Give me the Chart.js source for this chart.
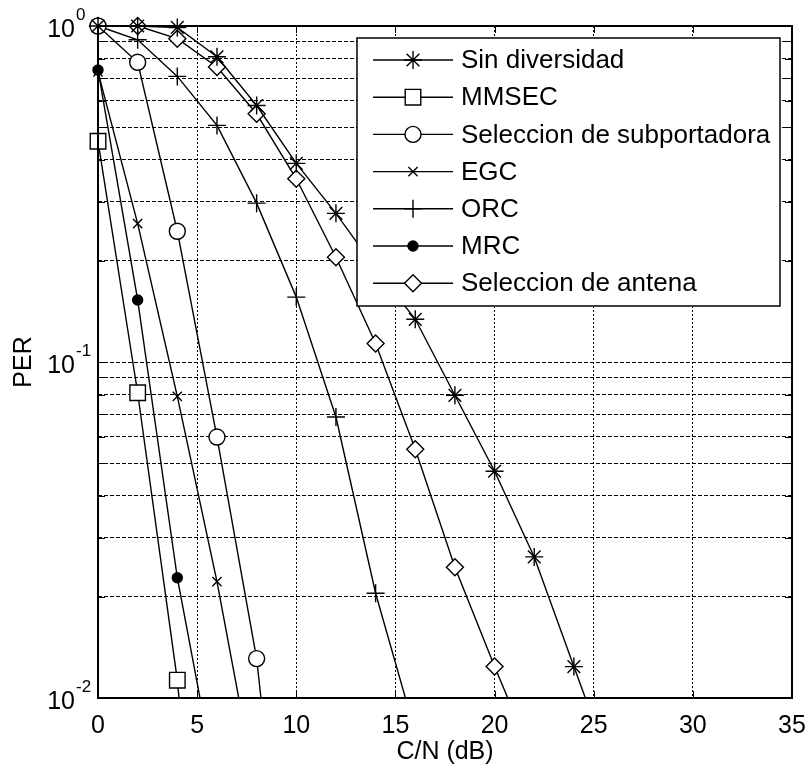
<!DOCTYPE html>
<html>
<head>
<meta charset="utf-8">
<script src="https://cdn.jsdelivr.net/npm/chart.js@4.4.0/dist/chart.umd.min.js"></script>
<style>
  html, body { margin: 0; padding: 0; background: #fff; }
</style>
</head>
<body>
<canvas id="chart" width="808" height="770"></canvas>
<script>
// C/N (dB) values, one marker every 2 dB
const snr = [0, 2, 4, 6, 8, 10, 12, 14, 16, 18, 20, 22, 24, 26];

// PER (last value of each series lies below 10^-2 and is clipped)
const sinDiversidad   = [1, 1, 0.99, 0.81, 0.58, 0.39, 0.277, 0.19, 0.134, 0.0796, 0.0473, 0.0263, 0.0124, 0.0059];
const mmsec           = [0.454, 0.081, 0.0113, 0.0006];
const seleccionSub    = [1, 0.78, 0.245, 0.0598, 0.0131, 0.0011];
const egc             = [0.73, 0.258, 0.079, 0.0222, 0.0052];
const orc             = [1, 0.91, 0.708, 0.506, 0.297, 0.156, 0.0686, 0.0205, 0.0079];
const mrc             = [0.74, 0.153, 0.0228, 0.0054];
const seleccionAntena = [1, 1, 0.917, 0.755, 0.548, 0.351, 0.205, 0.1135, 0.055, 0.0245, 0.0124, 0.0065];

const seriesNames = ["Sin diversidad", "MMSEC", "Seleccion de subportadora", "EGC", "ORC", "MRC", "Seleccion de antena"];

const xTicks = [0, 5, 10, 15, 20, 25, 30, 35];
const yGrid = [0.01, 0.02, 0.03, 0.04, 0.05, 0.06, 0.07, 0.08, 0.09,
               0.1, 0.2, 0.3, 0.4, 0.5, 0.6, 0.7, 0.8, 0.9, 1];
const yMajor = [1, 0.1, 0.01];
const yMajorExp = ["0", "-1", "-2"];
const xTitle = "C/N (dB)";
const yTitle = "PER";

const FONT = "'Liberation Sans', Arial, sans-serif";

function pts(values) {
    return values.map((v, i) => ({ x: snr[i], y: v }));
}

function series(label, values, style, radius, fillColor) {
    return {
        label: label,
        data: pts(values),
        borderColor: "#000",
        borderWidth: 1.4,
        pointStyle: style,
        pointRadius: radius,
        pointHoverRadius: radius,
        pointBorderColor: "#000",
        pointBackgroundColor: fillColor || "#fff",
        pointBorderWidth: 1.4,
        tension: 0,
        fill: false,
        clip: { left: 20, top: 20, right: 20, bottom: 0 }
    };
}

const datasets = [
    series(seriesNames[0], sinDiversidad, "star", 9),
    series(seriesNames[1], mmsec, "rect", 11),
    series(seriesNames[2], seleccionSub, "circle", 8),
    series(seriesNames[3], egc, "crossRot", 6.5),
    series(seriesNames[4], orc, "cross", 9),
    series(seriesNames[5], mrc, "circle", 5, "#000"),
    series(seriesNames[6], seleccionAntena, "rectRot", 8.5)
];

const frame = {
    id: "frame",
    afterDatasetsDraw(chart) {
        const ctx = chart.ctx;
        const a = chart.chartArea;
        const xs = chart.scales.x, ys = chart.scales.y;
        ctx.save();
        ctx.strokeStyle = "#000";
        ctx.setLineDash([]);

        // inward ticks
        ctx.lineWidth = 1;
        ctx.beginPath();
        xTicks.forEach(t => {
            const px = Math.round(xs.getPixelForValue(t)) + 0.5;
            ctx.moveTo(px, a.bottom); ctx.lineTo(px, a.bottom - 7);
            ctx.moveTo(px, a.top); ctx.lineTo(px, a.top + 7);
        });
        yGrid.forEach(v => {
            const py = Math.round(ys.getPixelForValue(v)) + 0.5;
            ctx.moveTo(a.left, py); ctx.lineTo(a.left + 7, py);
            ctx.moveTo(a.right, py); ctx.lineTo(a.right - 7, py);
        });
        ctx.stroke();

        // axes box
        ctx.lineWidth = 2;
        ctx.strokeRect(a.left, a.top, a.right - a.left, a.bottom - a.top);

        // tick labels
        ctx.fillStyle = "#000";
        ctx.font = "25px " + FONT;
        ctx.textAlign = "center";
        ctx.textBaseline = "alphabetic";
        xTicks.forEach(t => ctx.fillText(String(t), xs.getPixelForValue(t), 733));

        yMajor.forEach((v, i) => {
            const py = ys.getPixelForValue(v);
            ctx.font = "25px " + FONT;
            ctx.textAlign = "right";
            ctx.fillText("10", 75, py + 11);
            ctx.font = "17px " + FONT;
            ctx.textAlign = "left";
            ctx.fillText(yMajorExp[i], 76, py - 6);
        });

        // axis titles
        ctx.font = "25px " + FONT;
        ctx.textAlign = "center";
        ctx.fillText(xTitle, (a.left + a.right) / 2, 759);
        ctx.translate(31, (a.top + a.bottom) / 2);
        ctx.rotate(-Math.PI / 2);
        ctx.fillText(yTitle, 0, 0);
        ctx.restore();

        // legend box
        const lx = 357, ly = 38, lw = 423, lh = 268;
        ctx.save();
        ctx.fillStyle = "#fff";
        ctx.fillRect(lx, ly, lw, lh);
        ctx.strokeStyle = "#000";
        ctx.lineWidth = 1.5;
        ctx.strokeRect(lx, ly, lw, lh);
        ctx.font = "26px " + FONT;
        ctx.textAlign = "left";
        ctx.textBaseline = "middle";
        chart.data.datasets.forEach((ds, i) => {
            const cy = 60 + i * 37.2;
            ctx.lineWidth = ds.borderWidth;
            ctx.beginPath();
            ctx.moveTo(373, cy); ctx.lineTo(453, cy);
            ctx.stroke();
            ctx.fillStyle = ds.pointBackgroundColor;
            Chart.helpers.drawPoint(ctx, {
                pointStyle: ds.pointStyle, radius: ds.pointRadius,
                borderWidth: ds.pointBorderWidth, rotation: 0
            }, 413, cy);
            ctx.fillStyle = "#000";
            ctx.fillText(ds.label, 461, cy + 1);
        });
        ctx.restore();
    }
};

new Chart(document.getElementById("chart"), {
    type: "line",
    data: { datasets: datasets },
    options: {
        responsive: false,
        animation: false,
        devicePixelRatio: 1,
        layout: { padding: { left: 98, top: 26, right: 16, bottom: 72 } },
        plugins: { legend: { display: false }, tooltip: { enabled: false } },
        scales: {
            x: {
                type: "linear", min: 0, max: 35,
                ticks: { display: false, stepSize: 5 },
                grid: { color: "#000", lineWidth: 1, drawTicks: false },
                border: { display: false, dash: [2, 2] }
            },
            y: {
                type: "logarithmic", min: 0.01, max: 1,
                afterBuildTicks: s => { s.ticks = yGrid.map(v => ({ value: v })); },
                ticks: { display: false },
                grid: { color: "#000", lineWidth: 1, drawTicks: false },
                border: { display: false, dash: [4, 2] }
            }
        }
    },
    plugins: [frame]
});
</script>
</body>
</html>
